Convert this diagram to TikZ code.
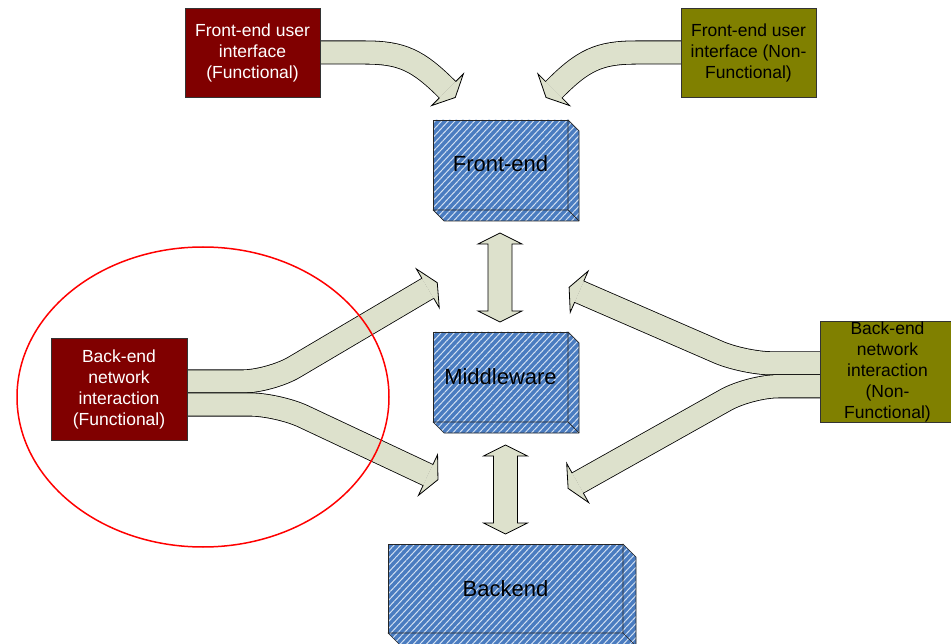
\documentclass[tikz,border=0pt]{standalone}
\usepackage{fontspec}
\setmainfont{Liberation Sans}
\usetikzlibrary{calc,patterns.meta}

\definecolor{bandfill}{RGB}{221,225,204}
\definecolor{maroonbox}{RGB}{128,0,0}
\definecolor{olivebox}{RGB}{128,128,0}
\definecolor{slabblue}{RGB}{74,124,192}
\definecolor{hatch}{RGB}{210,224,242}

\pgfdeclarelayer{bands}
\pgfsetlayers{bands,main}

% arrow head at the end of a band: #1 = middle of the head's back edge,
% #2 = a point behind it on the band's axis
\newcommand\blockhead[2]{%
  \fill[bandfill] ($(#1)!11.4pt!90:(#2)$) -- ($(#1)!22.5pt!90:(#2)$)
    -- ($(#1)!11pt!180:(#2)$) -- ($(#1)!22.5pt!-90:(#2)$)
    -- ($(#1)!11.4pt!-90:(#2)$) -- cycle;
  \draw[outline] ($(#1)!11.4pt!90:(#2)$) -- ($(#1)!22.5pt!90:(#2)$)
    -- ($(#1)!11pt!180:(#2)$) -- ($(#1)!22.5pt!-90:(#2)$)
    -- ($(#1)!11.4pt!-90:(#2)$);
}

% right and bottom faces of a slab whose front face is node #1, depth #2
\newcommand\slabsides[2]{%
  \path[slabside] (#1.north east) -- ++(#2,#2) -- ($(#1.south east)+(#2,#2)$)
    -- ($(#1.south west)+(#2,#2)$) -- (#1.south west) -- (#1.south east) -- cycle;
  \draw[edge] (#1.south east) -- ++(#2,#2);
}

% vertical two-headed block arrow between tips #1 (top) and #2 (bottom)
\newcommand\updown[2]{%
  \draw[outline, fill=bandfill] (#1) -- ++(22,11) -- ++(-10,0)
    -- ($(#2)+(12,-11)$) -- ++(10,0) -- (#2) -- ++(-22,-11) -- ++(10,0)
    -- ($(#1)+(-12,11)$) -- ++(-10,0) -- cycle;
}

\begin{document}
\begin{tikzpicture}[x=1pt,y=-1pt,
  outline/.style={draw=black, line width=0.8pt, line join=miter},
  edge/.style={draw=black!85, line width=0.7pt},
  band/.style={draw=black, line width=0.8pt, double=bandfill,
    double distance=22.4pt},
  fork/.style={band, rounded corners=28pt},
  tagbox/.style={draw=black!80, line width=0.8pt, minimum width=135pt,
    minimum height=89pt, inner sep=0pt, outer sep=0pt, align=center,
    font=\fontsize{17.5}{21}\selectfont},
  hatched/.style={preaction={fill=slabblue},
    pattern={Lines[angle=47,distance=4.8pt,line width=1pt]},
    pattern color=hatch},
  slabface/.style={hatched, draw=black!85, line width=0.7pt, inner sep=0pt,
    outer sep=0pt, font=\fontsize{22}{26}\selectfont},
  slabside/.style={hatched, draw=black!85, line width=0.7pt, line join=round},
  lens/.style={draw=red, line width=1.5pt}]

\useasboundingbox (0,0) rectangle (951,644);

% labelled source boxes
\node[tagbox, fill=maroonbox, text=white] (fuif) at (252.5,52.5)
  {Front-end user\\interface\\(Functional)};
\node[tagbox, fill=olivebox] (fuinf) at (748.5,52.5)
  {Front-end user\\interface (Non-\\Functional)};
\node[tagbox, fill=maroonbox, text=white, minimum width=136pt,
  minimum height=102pt] (bef) at (119,389)
  {Back-end\\network\\interaction\\(Functional)};
\node[tagbox, fill=olivebox, minimum width=135pt, minimum height=101pt,
  text width=135pt] (benf) at (887.5,371.5)
  {Back-end\\network\\interaction\\(Non-\\Functional)};

% tiers
\node[slabface, minimum width=135pt, minimum height=90pt] (fe) at (500.5,165)
  {\raisebox{2pt}{Front-end}};
\slabsides{fe}{11}
\node[slabface, minimum width=135pt, minimum height=90pt] (mw) at (500.5,377) {Middleware};
\slabsides{mw}{11}
\node[slabface, minimum width=235pt, minimum height=89pt] (be) at (505.5,588.5) {Backend};
\slabsides{be}{13}

% band geometry
\coordinate (tlA) at (365,52.5);    \coordinate (tlM) at (447.5,89.7);
\coordinate (tlB) at (437.5,79.7);
\coordinate (trA) at (636,52.5);    \coordinate (trM) at (553.8,89.7);
\coordinate (trB) at (563.8,79.7);
\coordinate (luC) at (270,381.5);   \coordinate (luM) at (427.8,288.3);
\coordinate (llC) at (278,404.5);   \coordinate (llM) at (428,475);
\coordinate (ruC) at (744,363.3);   \coordinate (ruM) at (579.2,291.7);
\coordinate (rlC) at (750,386.3);   \coordinate (rlM) at (577.7,483);

\begin{pgfonlayer}{bands}
  \draw[band] (fuif.east |- tlA) -- (tlA)
    .. controls (402,52.5) and (418,60.2) .. (tlM);
  \blockhead{tlM}{tlB}
  \draw[band] (fuinf.west |- trA) -- (trA)
    .. controls (599,52.5) and (583,60.2) .. (trM);
  \blockhead{trM}{trB}

  \draw[fork] (bef.east |- luC) -- (luC) -- (luM);
  \blockhead{luM}{luC}
  \draw[fork] (bef.east |- llC) -- (llC) -- (llM);
  \blockhead{llM}{llC}

  \draw[fork] (benf.west |- ruC) -- (ruC) -- (ruM);
  \blockhead{ruM}{ruC}
  \draw[fork] (benf.west |- rlC) -- (rlC) -- (rlM);
  \blockhead{rlM}{rlC}
\end{pgfonlayer}

% links between tiers
\coordinate (a1t) at ($(fe.south)+(-0.5,23)$);
\coordinate (a1b) at ($(mw.north)+(-0.5,-10)$);
\coordinate (a2t) at ($(mw.south)+(5,23)$);
\coordinate (a2b) at ($(be.north)+(0,-10)$);
\updown{a1t}{a1b}
\updown{a2t}{a2b}

% highlight
\draw[lens] (203,397) ellipse [x radius=186, y radius=150];

\end{tikzpicture}
\end{document}
